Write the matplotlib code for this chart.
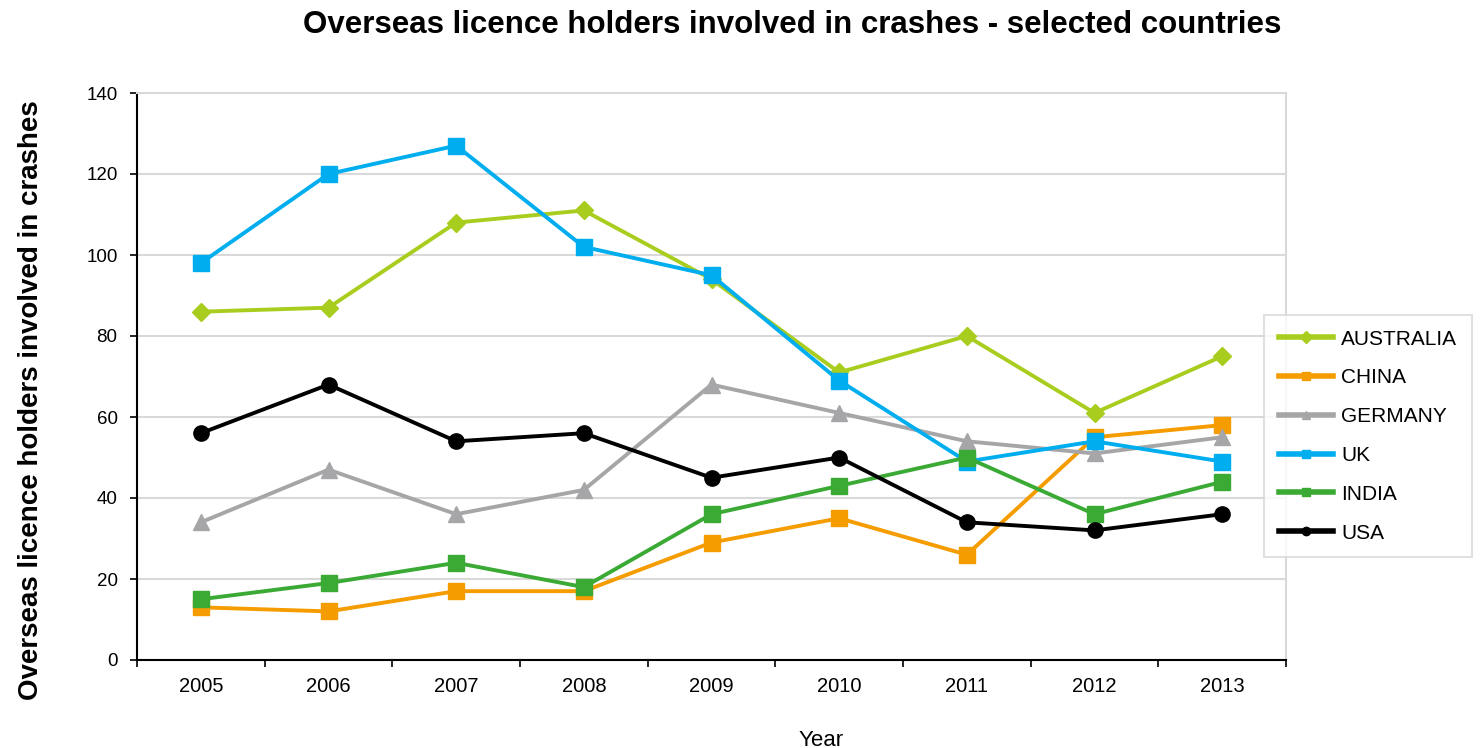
import matplotlib
matplotlib.use("Agg")
import matplotlib.pyplot as plt

plt.rcParams['font.family'] = ['Liberation Sans', 'DejaVu Sans']

years = ["2005", "2006", "2007", "2008", "2009", "2010", "2011", "2012", "2013"]
australia = [86, 87, 108, 111, 94, 71, 80, 61, 75]
china = [13, 12, 17, 17, 29, 35, 26, 55, 58]
germany = [34, 47, 36, 42, 68, 61, 54, 51, 55]
uk = [98, 120, 127, 102, 95, 69, 49, 54, 49]
india = [15, 19, 24, 18, 36, 43, 50, 36, 44]
usa = [56, 68, 54, 56, 45, 50, 34, 32, 36]

series = [
    ("AUSTRALIA", australia, "#A9CD1E", "D", 9.5),
    ("CHINA", china, "#F59C00", "s", 12),
    ("GERMANY", germany, "#A6A6A8", "^", 11),
    ("UK", uk, "#00AEEF", "s", 12),
    ("INDIA", india, "#3AAA35", "s", 12),
    ("USA", usa, "#000000", "o", 11),
]

fig = plt.figure(figsize=(14.8, 7.48), dpi=100)
ax = fig.add_axes([137/1480, 1-660/748, (1286-137)/1480, (660-93)/748])

x = list(range(len(years)))
for name, vals, col, mk, ms in series:
    ax.plot(x, vals, color=col, lw=2.8, marker=mk, markersize=ms,
            markeredgecolor=col, label=name, zorder=3)

ax.set_xlim(-0.5, len(years) - 0.5)
ax.set_ylim(0, 140)
ax.set_yticks(range(0, 141, 20))
ax.set_xticks(x)
ax.set_xticklabels(years, fontsize=14.5)
ax.set_xticks([i - 0.5 for i in range(len(years) + 1)], minor=True)
ax.tick_params(axis='x', which='major', length=0, pad=12)
ax.tick_params(axis='x', which='minor', length=5, width=1.2, direction='out')
ax.tick_params(axis='y', length=5, width=1.2, direction='out', labelsize=13.5, pad=9)

ax.yaxis.grid(True, color="#D9D9D9", lw=1.5)
ax.set_axisbelow(True)
for s in ['top', 'right']:
    ax.spines[s].set_color("#D9D9D9")
    ax.spines[s].set_linewidth(1.5)
for s in ['left', 'bottom']:
    ax.spines[s].set_color("black")
    ax.spines[s].set_linewidth(1.5)

fig.text(792/1480, 1-25/748, "Overseas licence holders involved in crashes - selected countries",
         ha='center', va='center', fontsize=22.5, fontweight='bold')
fig.text(31/1480, 1-400/748, "Overseas licence holders involved in crashes",
         ha='center', va='center', rotation=90, fontsize=20, fontweight='bold')
fig.text(821/1480, 1-740/748, "Year", ha='center', va='center', fontsize=16)

leg_handles = []
for name, vals, col, mk, ms in series:
    lh, = ax.plot([], [], color=col, lw=4, marker=mk, markersize=6,
                  markeredgecolor=col, label=name)
    leg_handles.append(lh)
leg = fig.legend(handles=leg_handles, loc='upper left',
                 bbox_to_anchor=(1264/1480, 1-315/748), fontsize=15,
                 frameon=True, fancybox=False, edgecolor="#D9D9D9",
                 handlelength=2.6, handletextpad=0.4, labelspacing=0.95,
                 borderpad=0.7, borderaxespad=0)
leg.get_frame().set_linewidth(1.5)

fig.savefig("out.png", dpi=100, facecolor="white")
